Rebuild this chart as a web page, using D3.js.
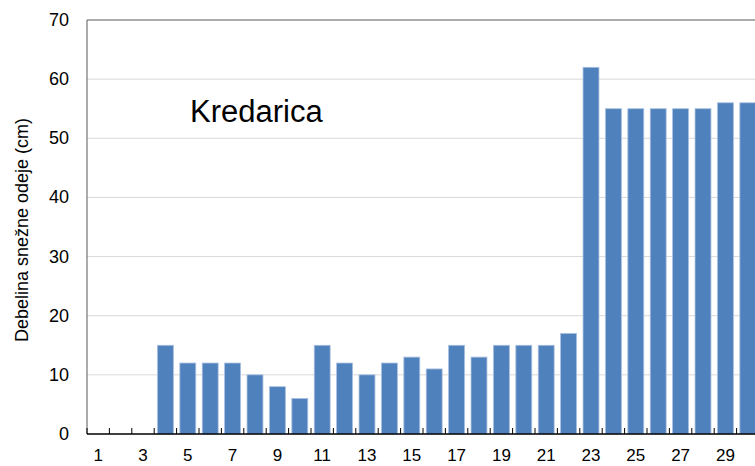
<!DOCTYPE html>
<html>
<head>
<meta charset="utf-8">
<script src="https://cdn.jsdelivr.net/npm/d3@7"></script>
<style>
  body{margin:0;background:#fff;}
  svg{display:block;font-family:"Liberation Sans",Arial,sans-serif;}
</style>
</head>
<body>
<svg width="755" height="466"></svg>
<script>
// data
const days = d3.range(1, 31)
const snow = [0,0,0,15,12,12,12,10,8,6,15,12,10,12,13,11,15,13,15,15,15,17,62,55,55,55,55,55,56,56]
const yTicks = [0,10,20,30,40,50,60,70]
const xLabels = days.filter(d => d % 2 === 1)

const svg = d3.select("svg")
const plotLeft = 87, plotTop = 20, plotBottom = 434
const bandW = 22.4

let x = d3.scaleBand().domain(days).range([plotLeft, plotLeft + bandW*days.length]).paddingInner(0.29).paddingOuter(0.145)
let y = d3.scaleLinear().domain([0,70]).range([plotBottom, plotTop])

// grid
svg.append("g").selectAll("line").data(yTicks.filter(d => d > 0 && d < 70)).join("line")
  .attr("x1", plotLeft).attr("x2", 755)
  .attr("y1", d => y(d)).attr("y2", d => y(d))
  .attr("stroke", "#d9d9d9").attr("stroke-width", 1)

// frame top + left
svg.append("line").attr("x1", plotLeft).attr("x2", 755).attr("y1", plotTop).attr("y2", plotTop)
  .attr("stroke", "#595959").attr("stroke-width", 1)
svg.append("line").attr("x1", plotLeft).attr("x2", plotLeft).attr("y1", plotTop).attr("y2", plotBottom)
  .attr("stroke", "#595959").attr("stroke-width", 1)

// bars
svg.append("g").selectAll("rect").data(days.map((d,i) => ({d, v: snow[i]})).filter(o => o.v > 0)).join("rect")
  .attr("x", o => x(o.d)).attr("width", x.bandwidth())
  .attr("y", o => y(o.v)).attr("height", o => plotBottom - y(o.v))
  .attr("fill", "#4f81bd").attr("stroke", "#a7bfe0").attr("stroke-width", 0.8)

// x axis line + inward ticks at band edges
svg.append("line").attr("x1", plotLeft).attr("x2", 755).attr("y1", plotBottom).attr("y2", plotBottom)
  .attr("stroke", "#000").attr("stroke-width", 1.3)
svg.append("g").selectAll("line").data(days).join("line")
  .attr("x1", d => x(d) - x.step()*x.paddingOuter()).attr("x2", d => x(d) - x.step()*x.paddingOuter())
  .attr("y1", plotBottom).attr("y2", plotBottom - 6)
  .attr("stroke", "#000").attr("stroke-width", 1)

// x labels
svg.append("g").selectAll("text").data(xLabels).join("text")
  .attr("x", d => x(d) + x.bandwidth()/2).attr("y", 461)
  .attr("text-anchor", "middle").attr("font-size", 17).attr("fill", "#000")
  .text(d => d)

// y labels
svg.append("g").selectAll("text").data(yTicks).join("text")
  .attr("x", 69).attr("y", d => y(d) + 6)
  .attr("text-anchor", "end").attr("font-size", 18).attr("fill", "#000")
  .text(d => d)

// y title
svg.append("text").attr("transform", "translate(28,230) rotate(-90)")
  .attr("text-anchor", "middle").attr("font-size", 18).attr("fill", "#000")
  .text("Debelina snežne odeje (cm)")

// station name
svg.append("text").attr("x", 190).attr("y", 122)
  .attr("font-size", 31).attr("fill", "#000")
  .text("Kredarica")
</script>
</body>
</html>
